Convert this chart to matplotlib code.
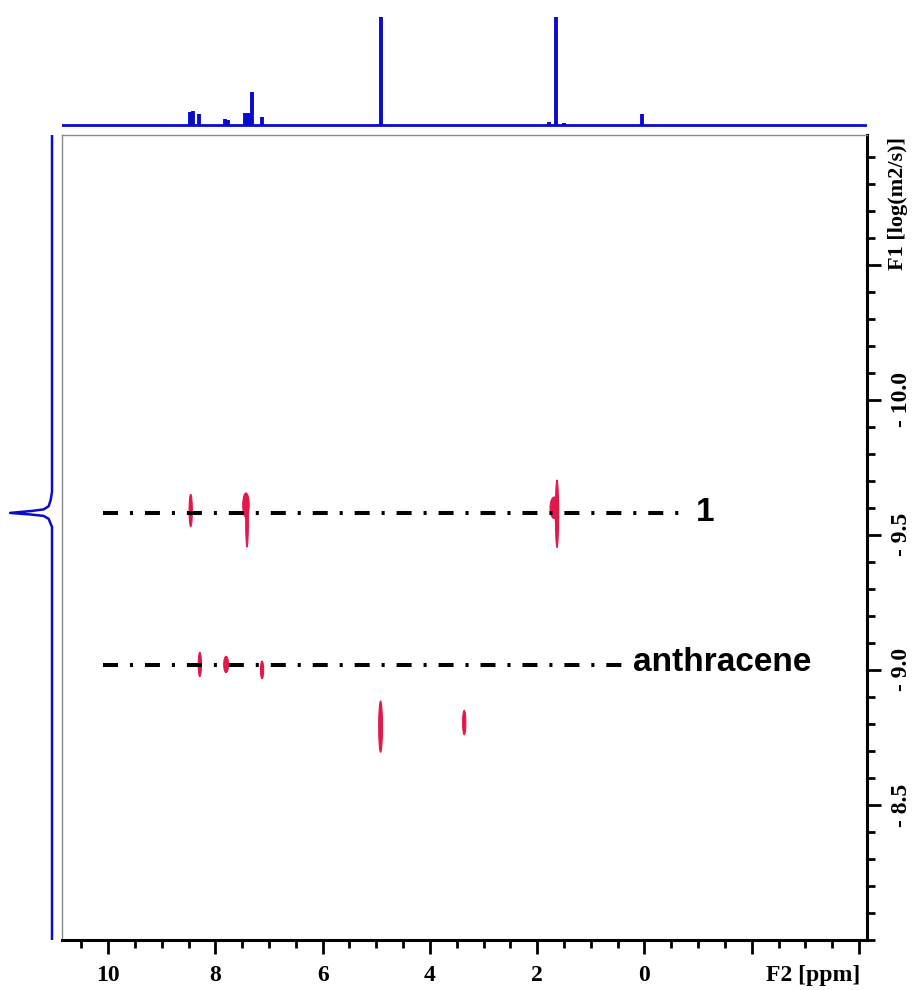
import matplotlib
matplotlib.use('Agg')
import matplotlib.pyplot as plt
from matplotlib.patches import Ellipse
from matplotlib.ticker import MultipleLocator, FixedLocator

# ---------------- data ----------------
# 1D 1H projection (top, F2)
f2_peak_ppm = [8.474, 8.419, 8.30, 7.82, 7.77, 7.45, 7.40, 7.36, 7.32, 7.135, 4.92, 1.78, 1.646, 1.50, 0.04]
f2_peak_int = [0.12, 0.13, 0.10, 0.055, 0.05, 0.11, 0.11, 0.10, 0.31, 0.075, 3.0, 0.03, 3.0, 0.02, 0.10]

# diffusion projection (left, F1)
f1_proj_logd = [-10.98, -9.66, -9.63, -9.606, -9.594, -9.588, -9.581, -9.575, -9.570, -9.559, -9.544, -9.529, -8.0]
f1_proj_int = [0.0, 0.0, 0.03, 0.08, 0.2, 0.5, 1.0, 0.5, 0.2, 0.08, 0.04, 0.0, 0.0]

# DOSY cross peaks
cross_ppm = [8.46, 7.41, 7.43, 1.63, 1.68, 8.29, 7.80, 7.13, 4.92, 3.36]
cross_logd = [-9.59, -9.55, -9.61, -9.578, -9.60, -9.02, -9.02, -9.00, -8.79, -8.805]
cross_dppm = [0.06, 0.05, 0.12, 0.06, 0.16, 0.06, 0.09, 0.06, 0.07, 0.06]
cross_dlogd = [0.12, 0.19, 0.09, 0.25, 0.08, 0.09, 0.06, 0.065, 0.19, 0.09]

# species lines
species_names = ['1', 'anthracene']
species_logd = [-9.581, -9.019]
species_ppm_start = [10.09, 10.09]
species_ppm_end = [-0.67, 0.36]

x_major = [10, 8, 6, 4, 2, 0, -2, -4]
x_labels = ['10', '8', '6', '4', '2', '0', '', '']
y_major = [-10.5, -10.0, -9.5, -9.0, -8.5]
y_labels = ['', '- 10.0', '- 9.5', '- 9.0', '- 8.5']

# ---------------- style ----------------
plt.rcParams['lines.scale_dashes'] = False
BLUE = '#0b0bd0'
RED = '#e4174a'
W, H = 918, 990
fig = plt.figure(figsize=(W / 100, H / 100), dpi=100)

def box(x0, y0, x1, y1):
    return [x0 / W, 1 - y1 / H, (x1 - x0) / W, (y1 - y0) / H]

xlim = (10.86, -4.15)
ylim = (-8.0, -10.98)

ax = fig.add_axes(box(62, 135, 867, 940))
ax_top = fig.add_axes(box(62, 17, 867, 128))
ax_left = fig.add_axes(box(8, 135, 56, 940))

# main
ax.set_xlim(*xlim)
ax.set_ylim(*ylim)
for i in range(len(cross_ppm)):
    e = Ellipse((cross_ppm[i], cross_logd[i]), cross_dppm[i], cross_dlogd[i],
                facecolor=RED, edgecolor=RED, lw=0.8, zorder=2)
    ax.add_patch(e)

for name, ld, xs, xe in zip(species_names, species_logd, species_ppm_start, species_ppm_end):
    ln, = ax.plot([xs, xe], [ld, ld], color='black', lw=2.9, zorder=3,
                  solid_capstyle='butt', dash_capstyle='butt')
    ln.set_dashes((10.8, 8.6, 2.2, 8.6))

ax.text(-1.13, species_logd[0], species_names[0], fontsize=24, fontweight='bold',
        family='Liberation Sans', ha='center', va='center')
ax.text(0.22, species_logd[1] - 0.01, species_names[1], fontsize=24, fontweight='bold',
        family='Liberation Sans', ha='left', va='center')

ax.xaxis.set_major_locator(FixedLocator(x_major))
ax.set_xticklabels(x_labels)
ax.xaxis.set_minor_locator(MultipleLocator(0.5))
ax.yaxis.tick_right()
ax.yaxis.set_major_locator(FixedLocator(y_major))
ax.set_yticklabels(y_labels, rotation=90, va='center')
ax.yaxis.set_minor_locator(MultipleLocator(0.1))
ax.tick_params(which='both', direction='out', width=2, color='black')
ax.tick_params(which='major', length=10)
ax.tick_params(which='minor', length=6)
ax.tick_params(axis='x', which='major', pad=8)
ax.tick_params(axis='y', which='major', pad=7)
for lab in ax.get_xticklabels() + ax.get_yticklabels():
    lab.set_family('Liberation Serif')
    lab.set_fontweight('bold')
    lab.set_fontsize(17)
for s in ['left', 'top']:
    ax.spines[s].set_color('#8a8a8a')
    ax.spines[s].set_linewidth(1.0)
for s in ['right', 'bottom']:
    ax.spines[s].set_color('black')
    ax.spines[s].set_linewidth(2.2)

fig.text(813 / W, 1 - 975 / H, 'F2 [ppm]', family='Liberation Serif', fontweight='bold',
         fontsize=17, ha='center', va='center')
fig.text(898 / W, 1 - 203 / H, 'F1 [log(m2/s)]', family='Liberation Serif', fontweight='bold',
         fontsize=16, ha='center', va='center', rotation=90)

# top projection
ax_top.set_xlim(*xlim)
ax_top.set_ylim(-0.028, 1.0)
ax_top.axhline(0, color=BLUE, lw=2.0)
ax_top.vlines(f2_peak_ppm, 0, f2_peak_int, color=BLUE, lw=2.8)
ax_top.axis('off')

# left projection
ax_left.set_ylim(*ylim)
ax_left.set_xlim(1.05, -0.095)
ax_left.plot(f1_proj_int, f1_proj_logd, color=BLUE, lw=1.8)
ax_left.axis('off')

fig.savefig('out.png', dpi=100)
